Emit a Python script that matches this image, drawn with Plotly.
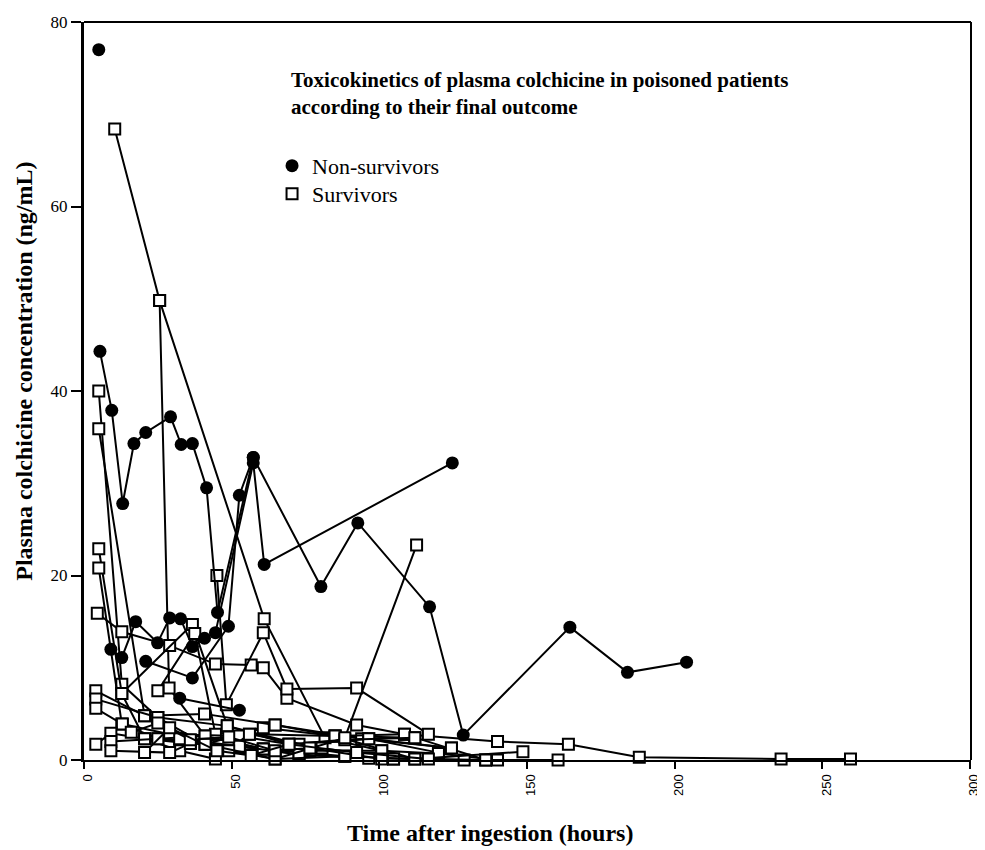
import plotly.graph_objects as go

# ---------------- data (hours, ng/mL) ----------------
# Non-survivors: one list of times / concentrations per patient
ns_time = [
    [5],
    [5.4, 9.4, 13.1, 16.9, 20.9, 29.3, 32.9, 36.7, 41.5, 45.2, 57.3, 80.2, 92.7, 117, 128.4, 164.5, 184, 204],
    [9.1, 12.8, 17.5, 24.9, 29, 32.7, 36.7, 40.8, 44.5, 57.3, 61, 124.7],
    [20.9, 36.7, 48.9, 52.6, 57.3],
    [32.4, 52.6],
]
ns_conc = [
    [77],
    [44.3, 37.9, 27.8, 34.3, 35.5, 37.2, 34.2, 34.3, 29.5, 16.0, 32.8, 18.8, 25.7, 16.6, 2.7, 14.4, 9.5, 10.6],
    [12.0, 11.1, 15.0, 12.7, 15.4, 15.3, 12.3, 13.2, 13.8, 32.2, 21.2, 32.2],
    [10.7, 8.9, 14.5, 28.7, 32.8],
    [6.7, 5.4],
]

# Survivors
s_time = [
    [10.4, 25.6, 61, 81.6, 100.8],
    [25.6, 28.8, 41, 60.7],
    [5, 12.8, 25, 41, 60.7, 88.3],
    [5, 20.5, 32.4, 52.6, 72.8, 104.8],
    [5, 12.8, 20.5, 36, 56, 85, 112],
    [5, 12.8, 25, 41, 64.7, 94, 124.4],
    [4.5, 12.8, 29, 44.5, 56.6, 60.7, 68.7, 92.3, 108.5, 140, 164, 188, 236, 259.5],
    [45, 48.2, 60.7, 68.7, 92.3, 116.6],
    [12.8, 36.7, 48.5, 69.4, 96.4, 120],
    [25, 37.5, 44.5, 60.7, 85, 112],
    [4, 20.5, 40.8, 64.7, 85, 108.5, 136],
    [4, 25, 48.5, 72.8, 96.4, 124.4],
    [4, 13, 29, 52.6, 69.4, 88.3, 112],
    [4, 9.1, 20.5, 32.4, 44.5, 56, 80.6, 104.8],
    [9.1, 25, 41, 60.7, 76.5, 100.8, 120, 140],
    [9.1, 29, 36, 52.6, 72.8, 96.4, 128.7, 160.5],
    [32.4, 49, 64.7, 88.3, 112, 148.6],
    [41, 64.7, 88.3, 112.6],
    [16, 25, 36, 49, 64.7, 76.5, 100.8],
    [20.5, 29, 45, 56.6, 69.4, 92.3, 116.6, 136],
]
s_conc = [
    [68.4, 49.8, 15.3, 2.4, 1.0],
    [49.8, 7.8, 2.6, 1.2],
    [40.0, 8.2, 4.6, 1.7, 1.2, 0.4],
    [35.9, 4.8, 2.3, 1.5, 0.6, 0.1],
    [22.9, 7.2, 2.3, 1.8, 2.8, 2.6, 2.4],
    [20.8, 3.9, 2.3, 1.7, 3.8, 2.3, 1.3],
    [15.9, 13.9, 12.4, 10.4, 10.3, 10.0, 6.7, 3.8, 2.8, 2.0, 1.7, 0.3, 0.1, 0.1],
    [20.0, 6.0, 13.8, 7.7, 7.8, 2.8],
    [7.2, 14.7, 3.7, 1.7, 2.3, 0.8],
    [7.5, 13.7, 2.8, 3.5, 2.6, 0.1],
    [7.5, 4.8, 5.0, 3.8, 2.6, 2.8, 0.0],
    [6.6, 4.6, 3.7, 1.7, 2.3, 1.3],
    [5.6, 3.9, 2.8, 2.6, 1.7, 2.2, 2.4],
    [1.7, 2.9, 2.3, 1.0, 0.1, 2.8, 1.3, 0.1],
    [2.0, 2.3, 2.6, 1.2, 1.0, 1.0, 0.7, 0.0],
    [1.0, 0.8, 1.8, 1.5, 0.6, 0.2, 0.0, 0.0],
    [2.3, 1.0, 0.1, 0.4, 0.1, 0.9],
    [1.7, 0.1, 2.4, 23.3],
    [3.0, 4.0, 2.2, 2.5, 1.0, 1.3, 0.1],
    [0.8, 3.5, 1.0, 0.5, 1.7, 0.8, 0.1, 0.0],
]

x_ticks = [0, 50, 100, 150, 200, 250, 300]
y_ticks = [0, 20, 40, 60, 80]

title_lines = ["Toxicokinetics of plasma colchicine in poisoned patients",
               "according to their final outcome"]
legend_names = ["Non-survivors", "Survivors"]

SERIF = "Liberation Serif, Times New Roman, serif"
SANS = "Liberation Sans, Arial, sans-serif"

fig = go.Figure()

for t, c in zip(s_time, s_conc):
    fig.add_trace(go.Scatter(
        x=t, y=c, mode="lines+markers", showlegend=False, cliponaxis=False,
        line=dict(color="black", width=2),
        marker=dict(symbol="square", size=11, color="white",
                    line=dict(color="black", width=2))))

for t, c in zip(ns_time, ns_conc):
    fig.add_trace(go.Scatter(
        x=t, y=c, mode="lines+markers", showlegend=False, cliponaxis=False,
        line=dict(color="black", width=2),
        marker=dict(symbol="circle", size=13, color="black")))

# legend entries (one legend box each, so their spacing can follow the reference)
fig.add_trace(go.Scatter(x=[None], y=[None], mode="markers", name=legend_names[0],
                         legend="legend",
                         marker=dict(symbol="circle", size=13, color="black")))
fig.add_trace(go.Scatter(x=[None], y=[None], mode="markers", name=legend_names[1],
                         legend="legend2",
                         marker=dict(symbol="square", size=11, color="white",
                                     line=dict(color="black", width=2))))

leg_font = dict(family=SERIF, size=22, color="black")
fig.update_layout(
    width=977, height=842,
    margin=dict(l=76, r=14, t=14, b=90, autoexpand=False),
    paper_bgcolor="white", plot_bgcolor="white",
    showlegend=True,
    legend=dict(x=0.212, y=0.805, xanchor="left", yanchor="middle",
                font=leg_font, itemwidth=30, bgcolor="rgba(0,0,0,0)"),
    legend2=dict(x=0.212, y=0.767, xanchor="left", yanchor="middle",
                 font=leg_font, itemwidth=30, bgcolor="rgba(0,0,0,0)"),
    xaxis=dict(range=[0, 300.3], tickvals=x_ticks, ticktext=[str(v) for v in x_ticks],
               showgrid=False, zeroline=False, showline=True, linecolor="black", linewidth=2,
               ticks="outside", ticklen=7, tickwidth=2, tickcolor="black",
               tickangle=-90, ticklabelshift=4, ticklabeloverflow="allow",
               tickfont=dict(family=SANS, size=13, color="black")),
    yaxis=dict(range=[0, 80], tickvals=y_ticks, ticktext=[str(v) for v in y_ticks],
               showgrid=False, zeroline=False, showline=True, linecolor="black", linewidth=3,
               ticks="outside", ticklen=10, tickwidth=2, tickcolor="black",
               tickfont=dict(family=SERIF, size=17, color="black")),
    shapes=[
        dict(type="line", xref="paper", yref="paper", x0=0, x1=1, y0=1, y1=1,
             line=dict(color="black", width=2)),
        dict(type="line", xref="paper", yref="paper", x0=1, x1=1, y0=0, y1=1,
             line=dict(color="black", width=2)),
    ],
    annotations=[
        dict(text="<b>%s<br>%s</b>" % (title_lines[0], title_lines[1]),
             xref="paper", yref="paper", align="left",
             x=0.231, y=0.903, xanchor="left", yanchor="middle", showarrow=False,
             font=dict(family=SERIF, size=21, color="black")),
        dict(text="<b>Plasma colchicine concentration (ng/mL)</b>", xref="paper", yref="paper",
             x=-0.068, y=0.527, xanchor="center", yanchor="middle", textangle=-90,
             showarrow=False, font=dict(family=SERIF, size=24, color="black")),
        dict(text="<b>Time after ingestion (hours)</b>", xref="paper", yref="paper",
             x=0.458, y=-0.099, xanchor="center", yanchor="middle",
             showarrow=False, font=dict(family=SERIF, size=24, color="black")),
    ],
)

fig.write_html("out.html")
